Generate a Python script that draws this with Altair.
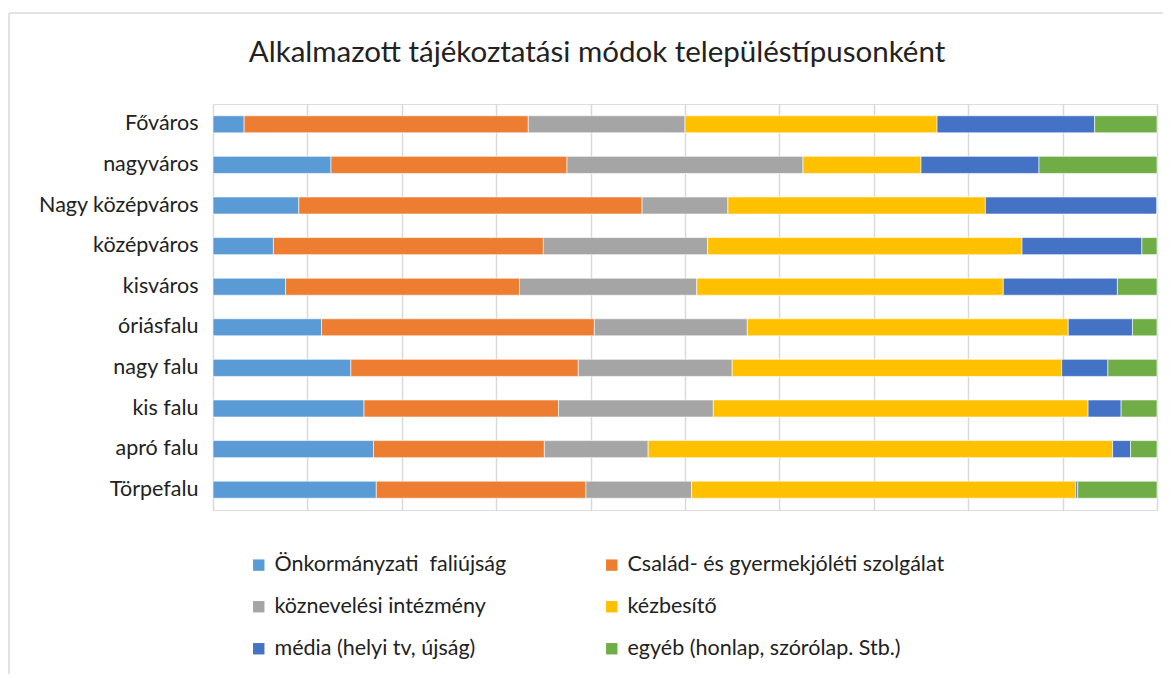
import altair as alt
import pandas as pd

categories = ["Főváros", "nagyváros", "Nagy középváros", "középváros", "kisváros",
              "óriásfalu", "nagy falu", "kis falu", "apró falu", "Törpefalu"]
series = ["Önkormányzati\u00a0 faliújság", "Család- és gyermekjóléti szolgálat",
          "köznevelési intézmény", "kézbesítő", "média (helyi tv, újság)",
          "egyéb (honlap, szórólap. Stb.)"]
colors = ["#5B9BD5", "#ED7D31", "#A5A5A5", "#FFC000", "#4472C4", "#70AD47"]

onkormanyzati = [3.3, 12.5, 9.1, 6.4, 7.7, 11.5, 14.6, 16.0, 17.0, 17.3]
csalad = [30.1, 25.0, 36.4, 28.6, 24.8, 28.9, 24.1, 20.6, 18.1, 22.2]
koznevelesi = [16.6, 25.0, 9.1, 17.4, 18.8, 16.2, 16.3, 16.4, 11.0, 11.2]
kezbesito = [26.7, 12.5, 27.3, 33.3, 32.5, 34.0, 34.9, 39.7, 49.2, 40.7]
media = [16.7, 12.5, 18.2, 12.7, 12.1, 6.8, 4.9, 3.5, 1.9, 0.2]
egyeb = [6.6, 12.5, 0.0, 1.6, 4.2, 2.6, 5.2, 3.8, 2.8, 8.4]

values = [onkormanyzati, csalad, koznevelesi, kezbesito, media, egyeb]
rows = []
for si, (s, vals) in enumerate(zip(series, values)):
    for c, v in zip(categories, vals):
        rows.append({"cat": c, "series": s, "order": si, "value": v})
df = pd.DataFrame(rows)

FONT = "Lato"

bars = alt.Chart(df).mark_bar(stroke="white", strokeWidth=0.6).encode(
    y=alt.Y("cat:N", sort=categories, title=None,
            scale=alt.Scale(paddingInner=0.58, paddingOuter=0.29),
            axis=alt.Axis(labelFont=FONT, labelFontSize=21.5, labelColor="#222222",
                          labelPadding=15, ticks=False, domain=False, grid=False)),
    x=alt.X("value:Q", stack="normalize", title=None,
            scale=alt.Scale(domain=[0, 1], nice=False),
            axis=alt.Axis(values=[i / 10 for i in range(11)], labels=False, ticks=False,
                          domain=False, grid=True, gridColor="#d9d9d9", gridWidth=1.5)),
    color=alt.Color("series:N", sort=series,
                    scale=alt.Scale(domain=series, range=colors),
                    legend=alt.Legend(title=None, orient="none", legendX=35, legendY=450,
                                      direction="horizontal",
                                      columns=2, columnPadding=94, rowPadding=19,
                                      symbolType="square", symbolSize=130,
                                      symbolStrokeWidth=0, labelFont=FONT,
                                      labelFontSize=21.5, labelColor="#222222",
                                      labelLimit=500, labelOffset=5)),
    order=alt.Order("order:Q"),
)

frame_df = pd.DataFrame({"k": [0]})
frame_top = alt.Chart(frame_df).mark_rule(color="#d9d9d9", strokeWidth=1.5, clip=False).encode(
    x=alt.value(-204), x2=alt.value(1000), y=alt.value(-91)
)
frame_left = alt.Chart(frame_df).mark_rule(color="#d9d9d9", strokeWidth=1.5, clip=False).encode(
    x=alt.value(-204), y=alt.value(-91), y2=alt.value(600)
)

chart = alt.layer(bars, frame_top, frame_left).properties(
    width=944, height=406,
    title=alt.TitleParams("Alkalmazott tájékoztatási módok településtípusonként",
                          font=FONT, fontSize=29.5, fontWeight="normal", color="#222222",
                          anchor="middle", dx=-88, offset=-56),
    padding={"left": 205, "top": 96, "right": 6, "bottom": 164},
    autosize="none",
).configure_view(stroke=None).configure(background="white")

chart.save("out.html", embed_options={"renderer": "svg", "actions": False})
